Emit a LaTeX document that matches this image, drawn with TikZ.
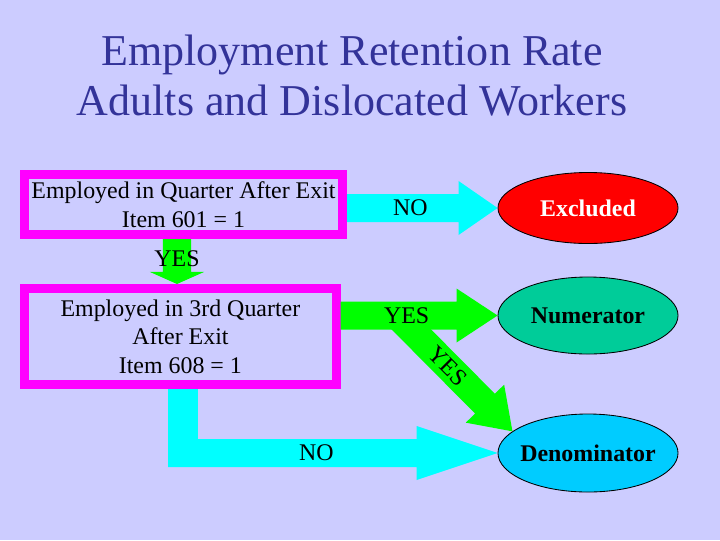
\documentclass[tikz,border=0pt]{standalone}
\usepackage{fontspec}
\setmainfont{Liberation Serif}
\usepackage{xcolor}
\usepackage{tikz}
\usetikzlibrary{shapes,calc,positioning}

\definecolor{slidebg}{HTML}{CCCCFF}
\definecolor{titleblue}{HTML}{333399}
\definecolor{boxpink}{HTML}{FF00FF}
\definecolor{arrowcyan}{HTML}{00FFFF}
\definecolor{arrowgreen}{HTML}{00FF00}
\definecolor{exclred}{HTML}{FF0000}
\definecolor{numgreen}{HTML}{00CC99}
\definecolor{denblue}{HTML}{00CCFF}

% block arrow: [label options]{colour}{start}{tip}{head length}{label}
\newcommand{\flowarrow}[6][]{%
  \coordinate (fa-h) at ($(#4)!#5!(#3)$);
  \fill [#2] ($(#3)!0.35cm!90:(#4)$) -- ($(fa-h)!0.35cm!90:(#4)$) -- ($(fa-h)!0.675cm!90:(#4)$)
    -- (#4) -- ($(fa-h)!0.675cm!-90:(#4)$) -- ($(fa-h)!0.35cm!-90:(#4)$) -- ($(#3)!0.35cm!-90:(#4)$) -- cycle;
  \path (#3) -- (#4) node [flowlabel, #1] {#6};}

\begin{document}
\begin{tikzpicture}[x=0.025cm, y=-0.025cm,
    flowtext/.style={font=\fontsize{17}{20.5}\selectfont},
    flowlabel/.style={flowtext, inner sep=0pt},
    titletext/.style={font=\fontsize{31.3}{37}\selectfont, text=titleblue, anchor=base},
    checkbox/.style={draw=boxpink, line width=6.4pt, inner sep=0pt, align=center, flowtext},
    result/.style={ellipse, draw=black, line width=0.6pt, minimum width=4.5cm, inner xsep=-0.15cm,
      inner ysep=0pt, font=\fontsize{17}{20.5}\selectfont\bfseries}]
    \fill [slidebg] (0,0) rectangle (720,540);
    \useasboundingbox (0,0) rectangle (720,540);

    % Title
    \node [titletext] (title1) at (352,65) {Employment Retention Rate};
    \node [titletext] (title2) at (352,115) {Adults and Dislocated Workers};

    % Questions
    \node [checkbox, minimum width=7.95cm, minimum height=1.5cm] (exitq) at (183.5,204.5)
      {Employed in Quarter After Exit\\Item 601 = 1};
    \node [checkbox, minimum width=7.79cm, minimum height=2.41cm] (thirdq) at (180.4,336.7)
      {Employed in 3rd Quarter\\After Exit\\Item 608 = 1};

    % Outcomes
    \node [result, fill=exclred, text=white, minimum height=1.775cm] (excl) at (588,208) {Excluded};
    \node [result, fill=numgreen, minimum height=1.925cm] (numer) at (588,315.5) {Numerator};
    \node [result, fill=denblue, minimum height=1.95cm] (denom) at (588,453) {Denominator};

    % Arrows
    \coordinate (noA) at (exitq.east |- excl.west);
    \flowarrow[pos=0.42]{arrowcyan}{noA}{excl.west}{0.975cm}{NO}

    \coordinate (yesx) at (177,0);
    \coordinate (yesA) at (exitq.south -| yesx);
    \coordinate (yesB) at (thirdq.north -| yesx);
    \flowarrow[pos=0.44]{arrowgreen}{yesA}{yesB}{0.3cm}{YES}

    \coordinate (diagA) at (397,315);
    \flowarrow[pos=0.44, rotate=-45]{arrowgreen}{diagA}{denom.164}{0.975cm}{YES}

    \coordinate (yesC) at (thirdq.east |- numer.west);
    \flowarrow[pos=0.42]{arrowgreen}{yesC}{numer.west}{1.025cm}{YES}

    \coordinate (nobend) at (183,453); % corner of the L
    \coordinate (noC) at ($(nobend)+(-15,0)$);
    \fill [arrowcyan] ($(thirdq.south -| nobend)+(-15,0)$) rectangle ($(nobend)+(15,14)$);
    \flowarrow[pos=0.45]{arrowcyan}{noC}{denom.west}{2.025cm}{NO}
\end{tikzpicture}
\end{document}
